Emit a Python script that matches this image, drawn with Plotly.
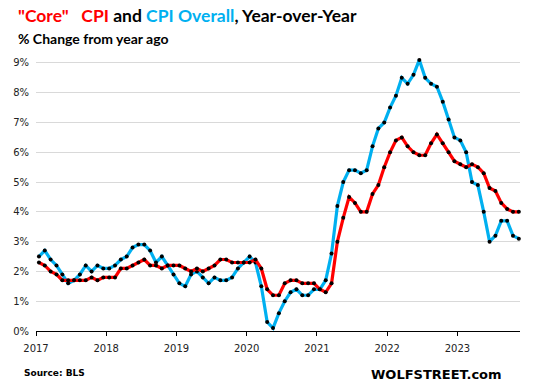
import plotly.graph_objects as go

years = ["2017", "2018", "2019", "2020", "2021", "2022", "2023"]

cpi_overall = [
    2.5, 2.7, 2.4, 2.2, 1.9, 1.6, 1.7, 1.9, 2.2, 2.0, 2.2, 2.1,
    2.1, 2.2, 2.4, 2.5, 2.8, 2.9, 2.9, 2.7, 2.3, 2.5, 2.2, 1.9,
    1.6, 1.5, 1.9, 2.0, 1.8, 1.6, 1.8, 1.7, 1.7, 1.8, 2.1, 2.3,
    2.5, 2.3, 1.5, 0.3, 0.1, 0.6, 1.0, 1.3, 1.4, 1.2, 1.2, 1.4,
    1.4, 1.7, 2.6, 4.2, 5.0, 5.4, 5.4, 5.3, 5.4, 6.2, 6.8, 7.0,
    7.5, 7.9, 8.5, 8.3, 8.6, 9.1, 8.5, 8.3, 8.2, 7.7, 7.1, 6.5,
    6.4, 6.0, 5.0, 4.9, 4.0, 3.0, 3.2, 3.7, 3.7, 3.2, 3.1,
]

core_cpi = [
    2.3, 2.2, 2.0, 1.9, 1.7, 1.7, 1.7, 1.7, 1.7, 1.8, 1.7, 1.8,
    1.8, 1.8, 2.1, 2.1, 2.2, 2.3, 2.4, 2.2, 2.2, 2.1, 2.2, 2.2,
    2.2, 2.1, 2.0, 2.1, 2.0, 2.1, 2.2, 2.4, 2.4, 2.3, 2.3, 2.3,
    2.3, 2.4, 2.1, 1.4, 1.2, 1.2, 1.6, 1.7, 1.7, 1.6, 1.6, 1.6,
    1.4, 1.3, 1.6, 3.0, 3.8, 4.5, 4.3, 4.0, 4.0, 4.6, 4.9, 5.5,
    6.0, 6.4, 6.5, 6.2, 6.0, 5.9, 5.9, 6.3, 6.6, 6.3, 6.0, 5.7,
    5.6, 5.5, 5.6, 5.5, 5.3, 4.8, 4.7, 4.3, 4.1, 4.0, 4.0,
]

y_ticks = [0, 1, 2, 3, 4, 5, 6, 7, 8, 9]

BLUE = "#00B0F0"
RED = "#FF0000"

W, H = 546, 391
L, R, T, B = 36, 520, 54, 331  # plot area in page pixels


def px(vx):
    return (vx - L) / (R - L)


def py(vy):
    return (B - vy) / (B - T)


fig = go.Figure()
fig.add_trace(go.Scatter(
    x=list(range(len(cpi_overall))), y=cpi_overall, mode="lines+markers",
    name="CPI Overall",
    line=dict(color=BLUE, width=3.2),
    marker=dict(color="black", size=4),
    cliponaxis=False,
))
fig.add_trace(go.Scatter(
    x=list(range(len(core_cpi))), y=core_cpi, mode="lines+markers",
    name="Core CPI",
    line=dict(color=RED, width=3.2),
    marker=dict(color="black", size=4),
    cliponaxis=False,
))

fig.update_layout(
    width=W, height=H,
    margin=dict(l=L, r=W - R, t=T, b=H - B, pad=0),
    paper_bgcolor="white", plot_bgcolor="white",
    showlegend=False,
    font=dict(family="DejaVu Sans", color="#222"),
)

fig.update_xaxes(
    range=[-0.5, 82.2],
    tickvals=[-0.5 + 12 * i for i in range(len(years))],
    ticktext=years,
    ticks="outside", ticklen=4, tickcolor="black", tickwidth=1,
    showline=True, linecolor="black", linewidth=1,
    showgrid=False, zeroline=False,
    tickfont=dict(family="DejaVu Sans", size=10, color="#222"),
    ticklabelstandoff=4,
)
fig.update_yaxes(
    range=[0, 9.3],
    tickvals=y_ticks,
    ticktext=[f"{v}%" for v in y_ticks],
    showgrid=True, gridcolor="#D9D9D9", gridwidth=1,
    zeroline=False, showline=False, ticks="",
    tickfont=dict(family="DejaVu Sans", size=10, color="#222"),
    ticklabelstandoff=6,
)

fig.add_annotation(
    xref="paper", yref="paper", x=px(16), y=py(15),
    xanchor="left", yanchor="middle", showarrow=False,
    text=(f'<span style="color:{RED}">"Core"&nbsp;&nbsp; CPI</span> and '
          f'<span style="color:{BLUE}">CPI Overall</span>, Year-over-Year'),
    font=dict(family="Lato", size=17.5, color="black", weight="bold"),
)
fig.add_annotation(
    xref="paper", yref="paper", x=px(16), y=py(38),
    xanchor="left", yanchor="middle", showarrow=False,
    text="% Change from year ago",
    font=dict(family="Lato", size=14, color="black", weight="bold"),
)
fig.add_annotation(
    xref="paper", yref="paper", x=px(22), y=py(373),
    xanchor="left", yanchor="middle", showarrow=False,
    text="Source: BLS",
    font=dict(family="DejaVu Sans", size=9, color="black", weight="bold"),
)
fig.add_annotation(
    xref="paper", yref="paper", x=px(504), y=py(374),
    xanchor="right", yanchor="middle", showarrow=False,
    text="WOLFSTREET.com",
    font=dict(family="DejaVu Sans", size=13, color="black", weight="bold"),
)

fig.write_html(
    "out.html",
    config={"displayModeBar": False},
    post_script="document.body.style.margin='0';document.body.style.overflow='hidden';",
)
